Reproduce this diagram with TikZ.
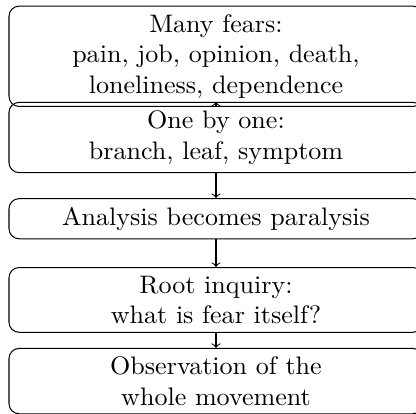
\documentclass[tikz,border=0pt]{standalone}
\begin{document}
\begin{tikzpicture}[x=0.3953pt, y=-0.3953pt,
  stage/.style={draw, rounded corners, align=center, text width=5.35cm},
  flow/.style={->}]
\useasboundingbox (0,0) rectangle (416,414);
% the column of stages is set slightly wider than tall
\begin{scope}[xshift=216*0.3953pt, xscale=1.03, transform shape]
\node[stage] (fears) at (0,56.3) {Many fears:\\pain, job, opinion, death,\\loneliness, dependence};
\node[stage] (one) at (0,137.5) {One by one:\\branch, leaf, symptom};
\node[stage] (para) at (0,218.7) {Analysis becomes paralysis};
\node[stage] (root) at (0,299.9) {Root inquiry:\\what is fear itself?};
\node[stage] (obs) at (0,381.1) {Observation of the\\whole movement};
\draw[flow] (fears.south) -- (one.north);
\draw[flow] (one.south) -- (para.north);
\draw[flow] (para.south) -- (root.north);
\draw[flow] (root.south) -- (obs.north);
\end{scope}
\end{tikzpicture}
\end{document}
